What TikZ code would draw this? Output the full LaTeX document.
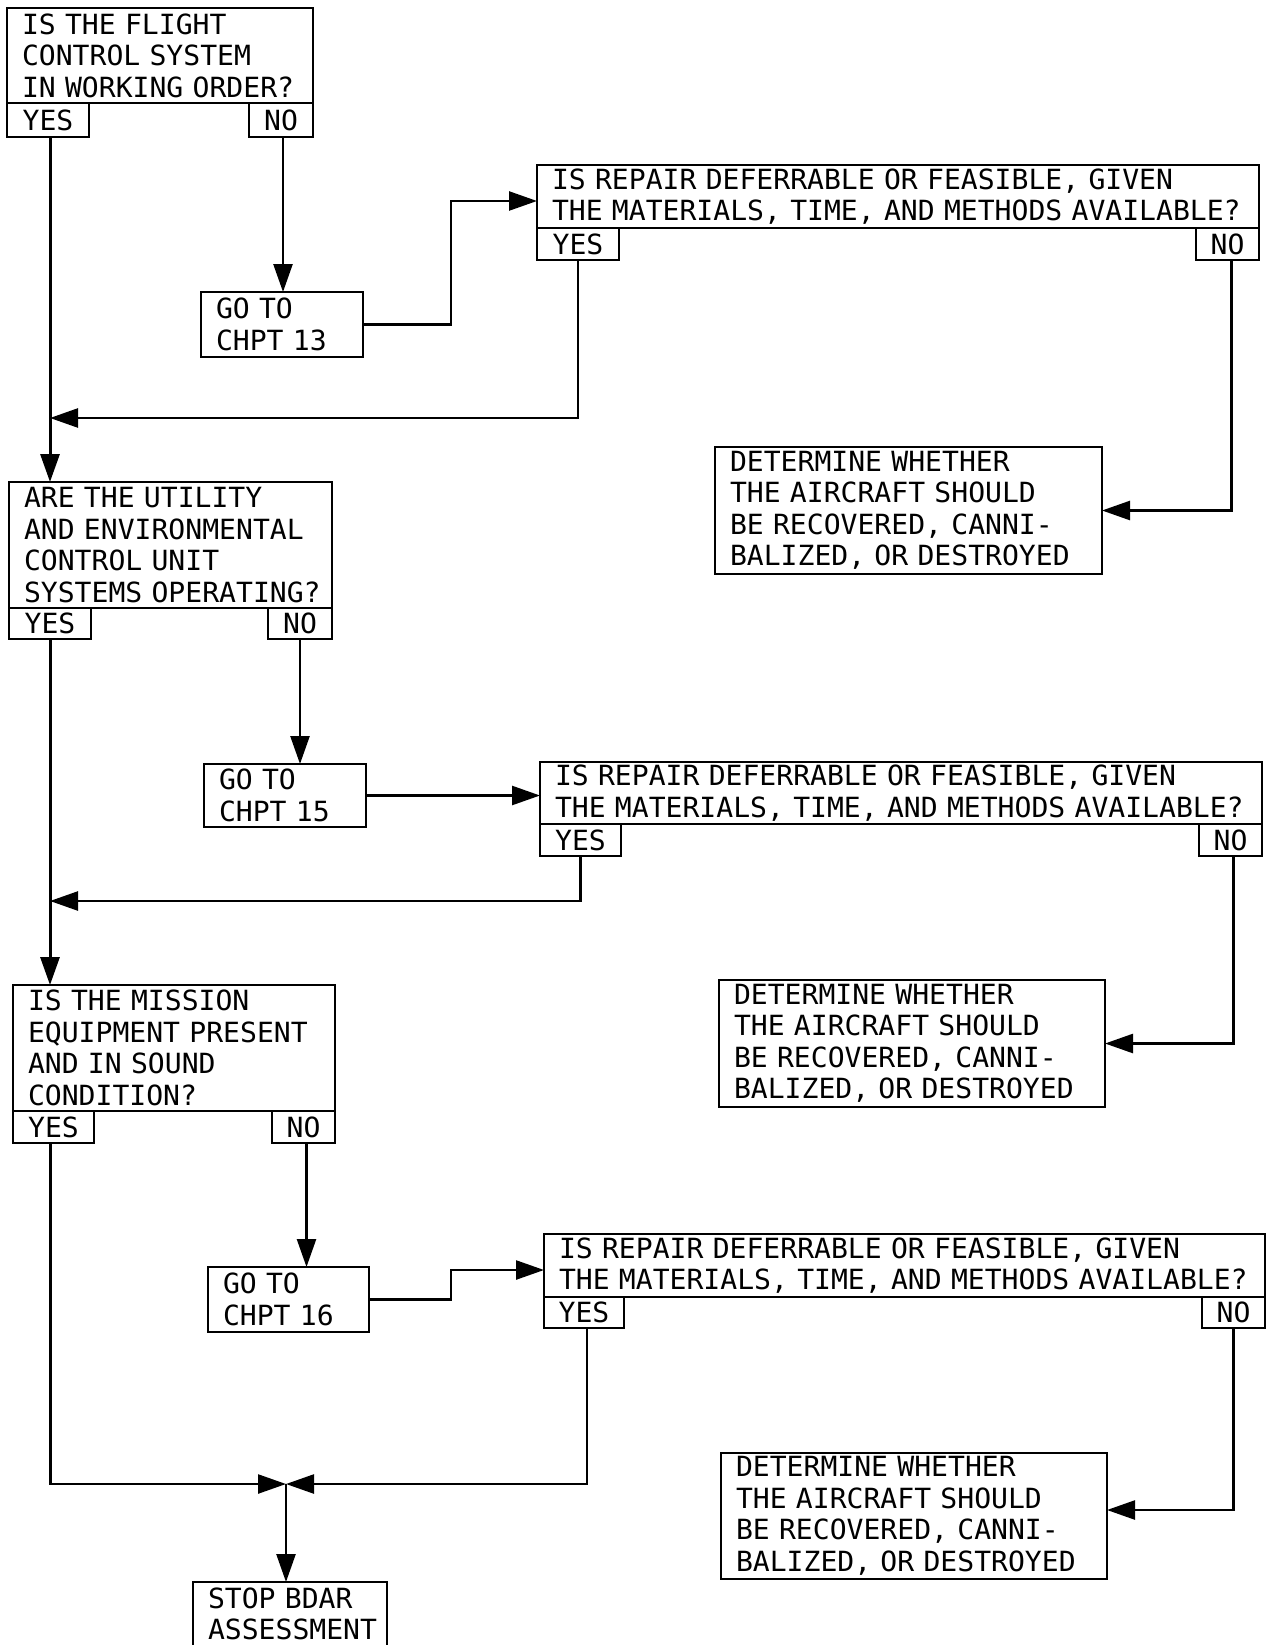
\documentclass[tikz,border=0pt]{standalone}
\usepackage{fontspec}
\newfontfamily\diagfont[FakeStretch=1.01]{DejaVu Sans Mono}
\usetikzlibrary{arrows.meta}
\newcommand{\nb}[1]{\mbox{#1}}
\begin{document}
\begin{tikzpicture}[x=1pt,y=-1pt,
  every node/.style={font=\diagfont\fontsize{27.8pt}{31.5pt}\selectfont, outer sep=0pt},
  box/.style={draw, line width=2.2pt, rectangle, inner xsep=15pt, inner ysep=0pt, align=left, anchor=north west,
    execute at begin node={\hyphenpenalty=10000\hbadness=10000\hfuzz=200pt}},
  tab/.style={draw, line width=2.2pt, rectangle, inner sep=0pt, anchor=north west},
  conn/.style={line width=2.5pt},
  arr/.style={conn, -{Triangle[length=28pt,width=19pt]}},
  trunk/.style={line width=3pt},
]
\useasboundingbox (0,0) rectangle (1275,1645);

% ---- Question 1
\node[box, text width=276pt, minimum height=95pt] (q1) at (7,8)
  {\nb{IS THE FLIGHT}\\\nb{CONTROL SYSTEM}\\\nb{IN WORKING ORDER?}};
\node[tab, minimum width=82pt, minimum height=34pt] (q1yes) at (7,103) {YES};
\node[tab, minimum width=64pt, minimum height=34pt] (q1no) at (249,103) {NO};
\node[box, text width=132pt, minimum height=65pt] (go13) at (201,292) {\nb{GO TO}\\\nb{CHPT 13}};

% ---- Repair 1
\node[box, text width=692pt, minimum height=63pt] (r1) at (537,165)
  {\nb{IS REPAIR DEFERRABLE OR FEASIBLE, GIVEN}\\\nb{THE MATERIALS, TIME, AND METHODS AVAILABLE?}};
\node[tab, minimum width=82pt, minimum height=32pt] (r1yes) at (537,228) {YES};
\node[tab, minimum width=63pt, minimum height=32pt] (r1no) at (1196,228) {NO};
\node[box, text width=357pt, minimum height=127pt] (d1) at (715,447)
  {\nb{DETERMINE WHETHER}\\\nb{THE AIRCRAFT SHOULD}\\\nb{BE RECOVERED, CANNI-}\\\nb{BALIZED, OR DESTROYED}};

% ---- Question 2
\node[box, text width=293pt, minimum height=126pt] (q2) at (9,482)
  {\nb{ARE THE UTILITY}\\\nb{AND ENVIRONMENTAL}\\\nb{CONTROL UNIT}\\\nb{SYSTEMS OPERATING?}};
\node[tab, minimum width=82pt, minimum height=31pt] (q2yes) at (9,608) {YES};
\node[tab, minimum width=64pt, minimum height=31pt] (q2no) at (268,608) {NO};
\node[box, text width=132pt, minimum height=63pt] (go15) at (204,764) {\nb{GO TO}\\\nb{CHPT 15}};

% ---- Repair 2
\node[box, text width=692pt, minimum height=62pt] (r2) at (540,762)
  {\nb{IS REPAIR DEFERRABLE OR FEASIBLE, GIVEN}\\\nb{THE MATERIALS, TIME, AND METHODS AVAILABLE?}};
\node[tab, minimum width=81pt, minimum height=32pt] (r2yes) at (540,824) {YES};
\node[tab, minimum width=63pt, minimum height=32pt] (r2no) at (1199,824) {NO};
\node[box, text width=356pt, minimum height=127pt] (d2) at (719,980)
  {\nb{DETERMINE WHETHER}\\\nb{THE AIRCRAFT SHOULD}\\\nb{BE RECOVERED, CANNI-}\\\nb{BALIZED, OR DESTROYED}};

% ---- Question 3
\node[box, text width=292pt, minimum height=126pt] (q3) at (13,985)
  {\nb{IS THE MISSION}\\\nb{EQUIPMENT PRESENT}\\\nb{AND IN SOUND}\\\nb{CONDITION?}};
\node[tab, minimum width=81pt, minimum height=32pt] (q3yes) at (13,1111) {YES};
\node[tab, minimum width=63pt, minimum height=32pt] (q3no) at (272,1111) {NO};
\node[box, text width=131pt, minimum height=65pt] (go16) at (208,1267) {\nb{GO TO}\\\nb{CHPT 16}};

% ---- Repair 3
\node[box, text width=691pt, minimum height=63pt] (r3) at (544,1234)
  {\nb{IS REPAIR DEFERRABLE OR FEASIBLE, GIVEN}\\\nb{THE MATERIALS, TIME, AND METHODS AVAILABLE?}};
\node[tab, minimum width=80pt, minimum height=31pt] (r3yes) at (544,1297) {YES};
\node[tab, minimum width=63pt, minimum height=31pt] (r3no) at (1202,1297) {NO};
\node[box, text width=356pt, minimum height=126pt] (d3) at (721,1453)
  {\nb{DETERMINE WHETHER}\\\nb{THE AIRCRAFT SHOULD}\\\nb{BE RECOVERED, CANNI-}\\\nb{BALIZED, OR DESTROYED}};

% ---- Stop
\node[box, text width=164pt, minimum height=64pt] (stop) at (193,1582) {\nb{STOP BDAR}\\\nb{ASSESSMENT}};

% ---- helper coordinates
\coordinate (s1) at (451,201);
\coordinate (s3) at (451,1270);
\coordinate (j1) at (50,418);
\coordinate (j2) at (50,901);
\coordinate (jn) at (286,1484);

% ---- connectors
\draw[arr, trunk] ([xshift=2pt]q1yes.south) -- ([xshift=2pt]q1yes.south |- q2.north);
\draw[arr] ([xshift=2pt]q1no.south) -- ([xshift=2pt]q1no.south |- go13.north);
\draw[arr] (go13.east) -| (s1) -- (s1 -| r1.west);
\draw[arr] (r1yes.south) |- (j1);
\draw[arr] ([xshift=4pt]r1no.south) |- (d1.east);

\draw[arr, trunk] (q2yes.south) -- (q2yes.south |- q3.north);
\draw[arr] (q2no.south) -- (q2no.south |- go15.north);
\draw[arr] (go15.east) -- (go15.east -| r2.west);
\draw[arr] (r2yes.south) |- (j2);
\draw[arr] ([xshift=3pt]r2no.south) |- (d2.east);

\draw[arr] ([xshift=3pt]q3no.south) -- ([xshift=3pt]q3no.south |- go16.north);
\draw[arr] (go16.east) -| (s3) -- (s3 -| r3.west);
\draw[arr] ([xshift=-3pt]q3yes.south) |- (jn);
\draw[arr] ([xshift=3pt]r3yes.south) |- (jn);
\draw[arr] (jn) -- (jn |- stop.north);
\draw[arr] (r3no.south) |- ([yshift=6pt]d3.east);
\end{tikzpicture}
\end{document}
